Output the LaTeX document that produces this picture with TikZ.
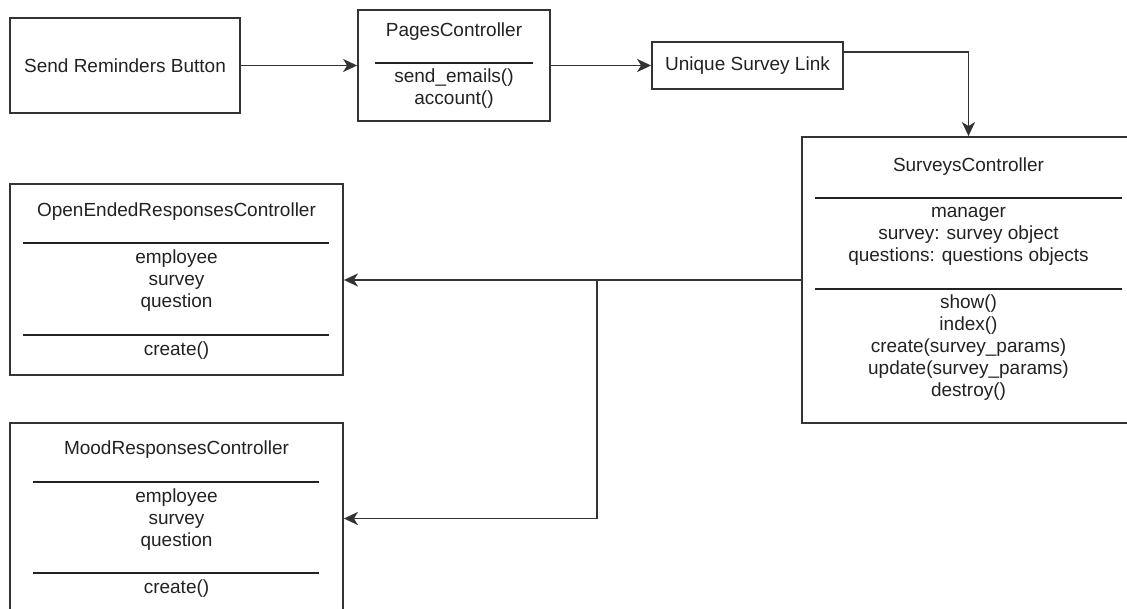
\documentclass[tikz,border=0pt]{standalone}
\usepackage{fontspec}
\setmainfont{Liberation Sans}
\usetikzlibrary{arrows.meta}
\definecolor{ink}{HTML}{222222}
\definecolor{edge}{HTML}{333333}
\begin{document}
\begin{tikzpicture}[x=1pt,y=-1pt,
    cls/.style={draw=edge, line width=1.8pt, inner sep=0pt},
    txt/.style={text=ink, align=center, inner sep=0pt, font=\fontsize{19}{22}\selectfont},
    sep/.style={draw=ink, line width=1.1pt},
    conn/.style={draw=edge, line width=1.8pt, -{Stealth[length=14pt,width=13pt,inset=4pt]}}]
      \useasboundingbox (0,0) rectangle (1127,608);
      % boxes
      \node[cls, minimum width=230pt, minimum height=95pt] (send) at (125,65.5) {};
      \node[cls, minimum width=192pt, minimum height=111pt] (pages) at (454,65.5) {};
      \node[cls, minimum width=191pt, minimum height=47pt] (link) at (747.5,65.5) {};
      \node[cls, minimum width=333pt, minimum height=286pt] (surveys) at (968.5,280) {};
      \node[cls, minimum width=333pt, minimum height=191pt] (open) at (176.5,279.5) {};
      \node[cls, minimum width=333pt, minimum height=191pt] (mood) at (176.5,518.5) {};
      % texts
      \node[txt] (sendT) at (send) {Send Reminders Button};
      \node[txt] (linkT) at (link) {Unique Survey Link};
      \node[txt] (pagesT) at (454,32) {PagesController};
      \draw[sep] (375,63) -- (533,63);
      \node[txt] (pagesM) at (454,89) {send\_emails()\\account()};
      \node[txt] (surveysT) at (968.5,167) {SurveysController};
      \draw[sep] (815,198) -- (1122,198);
      \node[txt] (surveysA) at (968.5,236) {manager\\survey: survey object\\questions: questions objects};
      \draw[sep] (815,289) -- (1122,289);
      \node[txt] (surveysM) at (968.5,348) {show()\\index()\\create(survey\_params)\\update(survey\_params)\\destroy()};
      \node[txt] (openT) at (176.5,212) {OpenEndedResponsesController};
      \draw[sep] (23,243) -- (329,243);
      \node[txt] (openA) at (176.5,281) {employee\\survey\\question};
      \draw[sep] (23,335) -- (329,335);
      \node[txt] (openM) at (176.5,351) {create()};
      \node[txt] (moodT) at (176.5,450) {MoodResponsesController};
      \draw[sep] (33,482) -- (319,482);
      \node[txt] (moodA) at (176.5,520) {employee\\survey\\question};
      \draw[sep] (33,573) -- (319,573);
      \node[txt] (moodM) at (176.5,589) {create()};
      % connectors
      \draw[conn] (send) -- (pages);
      \draw[conn] (pages) -- (link);
      \draw[conn] ([yshift=-11pt]link.north east) -| (surveys.north);
      \draw[conn] (surveys.west) -- (surveys.west -| open.east);
      \coordinate (jn) at (533,280);
      \coordinate (bend) at (597,280);
      \draw[conn] (jn) -- (bend) |- (mood.east);
\end{tikzpicture}
\end{document}
